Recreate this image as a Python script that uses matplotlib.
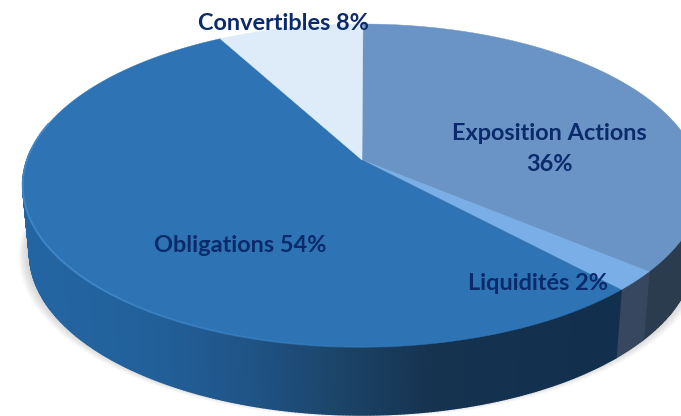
import numpy as np
import matplotlib
matplotlib.use('Agg')
import matplotlib.pyplot as plt
from matplotlib.colors import to_rgb

labels = ['Exposition Actions\n36%', 'Liquidités 2%', 'Obligations 54%', 'Convertibles 8%']
values = [36, 2, 54, 8]
top_colors = ['#6a94c6', '#7aaee6', '#2e74b5', '#deebf8']
side_colors = ['#2b3c4e', '#36475f', None, '#2365a3']
# degrade du bord des obligations, de gauche a droite
grad_x = [30, 150, 250, 340, 440, 600]
grad_colors = ['#2365a3', '#22609a', '#1f5487', '#1c4468', '#15324f', '#122f4e']
text_color = '#0a2a6b'

# centre du camembert et perspective
cx, cy = 362, 160
sx, sy = 335, 157.5
k = 0.158
depth = 68
bottom_scale = 0.98


def project(angle, r=1.0, dy=0.0):
    # angle en degres, sens horaire depuis le haut
    a = np.radians(angle)
    x = r * np.sin(a)
    y = r * np.cos(a)
    den = 1 + k * y
    return cx + sx * x / den, cy - sy * y / den + dy


fig = plt.figure(figsize=(6.81, 4.16), dpi=100)
ax = fig.add_axes([0, 0, 1, 1])
ax.set_xlim(0, 681)
ax.set_ylim(416, 0)
ax.axis('off')

all_angles = np.linspace(0, 360, 721)

# ombre sous le camembert
for i in range(14):
    px, py = project(all_angles, dy=depth - 3 + i * 0.45)
    px = cx + (px - cx) * (bottom_scale + i * 0.0025)
    ax.fill(px, py, color='#666666', alpha=0.022, lw=0, zorder=1)

# bords par tranche
rgb_stops = np.array([to_rgb(c) for c in grad_colors])
edges = np.concatenate([[0], np.cumsum(values)]) * 3.6
for i in range(len(values)):
    angles = np.arange(edges[i], edges[i + 1] + 0.5, 0.5)
    x_all, y_all = project(angles)
    x_low = cx + (x_all - cx) * bottom_scale
    for j in range(len(angles) - 1):
        if y_all[j] < 150 and y_all[j + 1] < 150:
            continue
        xs = [x_all[j], x_all[j + 1], x_low[j + 1], x_low[j]]
        ys = [y_all[j], y_all[j + 1], y_all[j + 1] + depth, y_all[j] + depth]
        if side_colors[i] is None:
            col = [np.interp(x_all[j], grad_x, rgb_stops[:, c]) for c in range(3)]
        else:
            col = side_colors[i]
        ax.fill(xs, ys, color=col, lw=1.0, ec=col, zorder=2)

# face du dessus
for i in range(len(values)):
    angles = np.arange(edges[i], edges[i + 1] + 0.25, 0.25)
    px, py = project(angles)
    ax.fill(np.r_[cx, px], np.r_[cy, py], color=top_colors[i], lw=0.3, ec=top_colors[i], zorder=3)

# liseré clair sur l'arete, qui s'efface vers la droite
rim = np.arange(165, 285, 1.0)
px, py = project(rim)
for j in range(len(rim) - 1):
    fade = np.clip((rim[j] - 165) / 60, 0, 1)
    ax.plot(px[j:j + 2], py[j:j + 2], color='#3f86c8', alpha=fade, lw=1.4,
            solid_capstyle='butt', zorder=4)

# etiquettes
font = dict(family='Lato', fontweight='bold', fontsize=16.9, color=text_color,
            ha='center', va='center', zorder=5)
ax.text(549, 149, labels[0], linespacing=1.55, **font)
ax.text(538, 283, labels[1], **font)
ax.text(240, 246, labels[2], **font)
ax.text(283, 23, labels[3], **font)

fig.savefig('out.png', dpi=100)
